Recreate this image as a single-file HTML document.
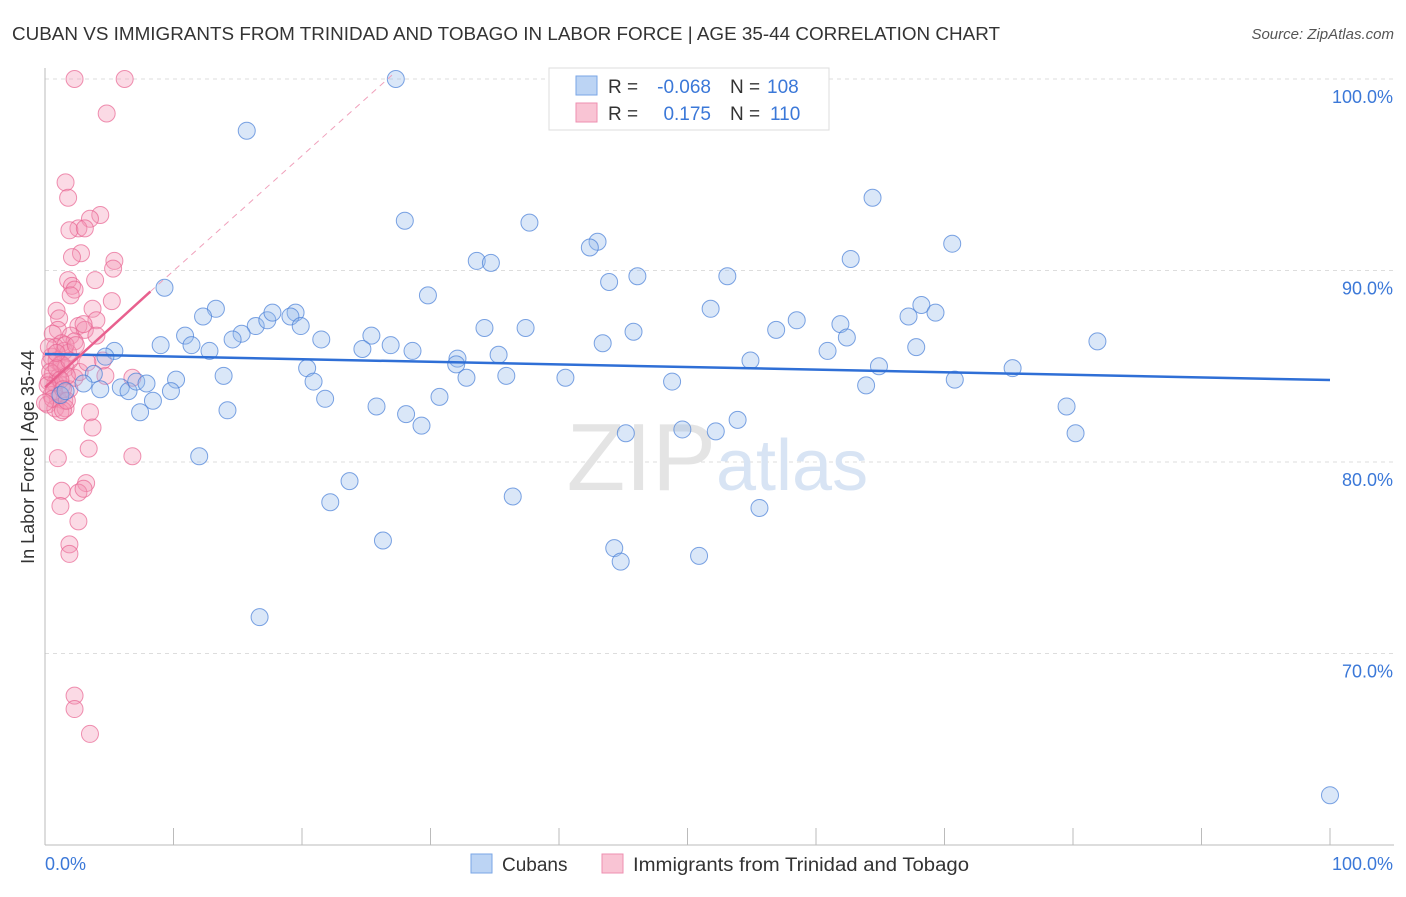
<!DOCTYPE html>
<html><head><meta charset="utf-8"><style>
body{margin:0;background:#fff;font-family:"Liberation Sans",sans-serif;}
svg text{font-family:"Liberation Sans",sans-serif;}
</style></head><body>
<svg width="1406" height="892" xmlns="http://www.w3.org/2000/svg">
<text x="12" y="40" font-size="18" fill="#333" textLength="988" lengthAdjust="spacingAndGlyphs">CUBAN VS IMMIGRANTS FROM TRINIDAD AND TOBAGO IN LABOR FORCE | AGE 35-44 CORRELATION CHART</text>
<text x="1394" y="39" font-size="15" fill="#555" font-style="italic" text-anchor="end">Source: ZipAtlas.com</text>
<g id="grid"></g>
<text x="716" y="490" font-size="96" fill="#e4e4e4" font-family="Liberation Serif" text-anchor="end">ZIP</text>
<text x="716" y="490" font-size="72" fill="#d8e4f4">atlas</text>
<g id="axes"></g>
<g id="pts"></g>
<g id="trend"></g>
<text x="34" y="457" font-size="18" fill="#333" text-anchor="middle" transform="rotate(-90 34 457)">In Labor Force | Age 35-44</text>
<text x="45" y="870" font-size="18" fill="#3b78d8">0.0%</text>
<text x="1393" y="870" font-size="18" fill="#3b78d8" text-anchor="end">100.0%</text>
<g>
<rect x="549" y="68" width="280" height="62" fill="#fff" stroke="#ddd"/>
<rect x="576" y="76" width="21" height="19" fill="#bcd4f4" stroke="#7aa6e6"/>
<rect x="576" y="103" width="21" height="19" fill="#f9c4d4" stroke="#ee8fb0"/>
<text x="608" y="93" font-size="19" fill="#333">R =</text>
<text x="711" y="93" font-size="19" fill="#3b78d8" text-anchor="end">-0.068</text>
<text x="730" y="93" font-size="19" fill="#333">N =</text>
<text x="767" y="93" font-size="19" fill="#3b78d8">108</text>
<text x="608" y="120" font-size="19" fill="#333">R =</text>
<text x="711" y="120" font-size="19" fill="#3b78d8" text-anchor="end">0.175</text>
<text x="730" y="120" font-size="19" fill="#333">N =</text>
<text x="770" y="120" font-size="19" fill="#3b78d8">110</text>
</g>
<g>
<rect x="471" y="854" width="21" height="19" fill="#bcd4f4" stroke="#7aa6e6"/>
<text x="502" y="871" font-size="19" fill="#333">Cubans</text>
<rect x="602" y="854" width="21" height="19" fill="#f9c4d4" stroke="#ee8fb0"/>
<text x="633" y="871" font-size="19" fill="#333" textLength="336" lengthAdjust="spacingAndGlyphs">Immigrants from Trinidad and Tobago</text>
</g>
</svg>
<script>
const yTicks=[100,90,80,70];
const yTickLabels=["100.0%","90.0%","80.0%","70.0%"];
const blueX=[27.3,15.7,64.4,28,37.7,43,42.4,70.6,33.6,34.7,62.7,53.1,46.1,43.9,9.3,29.8,13.3,12.3,51.8,68.2,69.3,67.2,16.4,17.3,17.7,19.5,19.1,19.9,15.3,14.6,10.9,9,11.4,12.8,21.5,25.4,26.9,28.6,24.7,34.2,37.4,45.8,43.4,56.9,58.5,61.9,62.4,60.9,67.8,81.9,5.4,4.7,32.1,35.3,32,54.9,64.9,20.4,20.9,13.9,10.2,3.8,5.9,4.3,6.5,7.1,7.9,3,1.2,1.6,9.8,8.4,7.4,14.2,21.8,25.8,28.1,29.3,30.7,32.8,35.9,40.5,48.8,63.9,70.8,75.3,53.9,45.2,49.6,52.2,79.5,80.2,12,23.7,22.2,36.4,55.6,26.3,44.3,44.8,50.9,16.7,100];
const blueY=[100,97.3,93.8,92.6,92.5,91.5,91.2,91.4,90.5,90.4,90.6,89.7,89.7,89.4,89.1,88.7,88,87.6,88,88.2,87.8,87.6,87.1,87.4,87.8,87.8,87.6,87.1,86.7,86.4,86.6,86.1,86.1,85.8,86.4,86.6,86.1,85.8,85.9,87,87,86.8,86.2,86.9,87.4,87.2,86.5,85.8,86,86.3,85.8,85.5,85.4,85.6,85.1,85.3,85,84.9,84.2,84.5,84.3,84.6,83.9,83.8,83.7,84.2,84.1,84.1,83.5,83.7,83.7,83.2,82.6,82.7,83.3,82.9,82.5,81.9,83.4,84.4,84.5,84.4,84.2,84,84.3,84.9,82.2,81.5,81.7,81.6,82.9,81.5,80.3,79,77.9,78.2,77.6,75.9,75.5,74.8,75.1,71.9,62.6];
const pinkX=[2.3,6.2,4.8,1.6,1.8,4.3,3.5,2.6,1.9,3.1,2.8,2.1,5.4,5.3,1.8,3.9,2.1,2.3,2,5.2,3.7,0.9,1.1,4,2.6,3.1,1,0.6,2,4.0,1.3,2.3,0.8,1.5,0.5,1.8,0.9,0.4,1.2,1.6,0.6,1,0.3,0.8,1.3,1.9,0.5,1,1.5,0.2,0.8,1.6,1.2,2.3,2.7,4.7,6.8,4.5,3.3,3.5,3.7,3.4,1,6.8,3.2,1.3,2.6,3,1.2,2.6,1.9,1.9,2.3,2.3,3.5,1.3,0.4,0.9,1.7,0.7,1.2,0.2,0.6,1.4,1.9,3,1.6,2.4,0.3,0.9,0,1.4,1.7];
const pinkY=[100,100,98.2,94.6,93.8,92.9,92.7,92.2,92.1,92.2,90.9,90.7,90.5,90.1,89.5,89.5,89.2,89,88.7,88.4,88,87.9,87.5,87.4,87.1,86.9,86.9,86.7,86.6,86.6,86.2,86.3,86,85.8,85.5,85.7,85.3,85.2,85.1,84.9,84.6,84.4,84.2,84.1,84,83.8,83.5,83.3,83.2,83,82.8,82.8,82.6,84.4,84.7,84.5,84.4,85.3,85.2,82.6,81.8,80.7,80.2,80.3,78.9,78.5,78.4,78.6,77.7,76.9,75.7,75.2,67.8,67.1,65.8,85.1,84.7,84.9,84.5,83.7,84.3,84,83.3,83.8,85.3,87.2,86.1,86.1,86,85.7,83.1,82.7,83.2];
const sx=v=>45+v*12.85, sy=v=>79+(100-v)*19.15;
const NS="http://www.w3.org/2000/svg";
function mk(t,a,p){const e=document.createElementNS(NS,t);for(const k in a)e.setAttribute(k,a[k]);p.appendChild(e);return e;}
const grid=document.getElementById('grid'),axes=document.getElementById('axes');
yTicks.forEach((v,i)=>{const g=mk('line',{x1:45,x2:1394,y1:sy(v),y2:sy(v),stroke:'#ddd','stroke-dasharray':'4,4'},grid);


const t=mk('text',{x:1393,y:sy(v)+24,'font-size':18,fill:'#3b78d8','text-anchor':'end'},axes);t.textContent=yTickLabels[i];

});
let l=mk('line',{x1:45,x2:45,y1:68,y2:845,stroke:'#bbb'},axes);


l=mk('line',{x1:45,x2:1394,y1:845,y2:845,stroke:'#bbb'},axes);


for(let i=0;i<=10;i++){const t=mk('line',{x1:sx(i*10),x2:sx(i*10),y1:828,y2:845,stroke:'#bbb'},axes);

}
const pts=document.getElementById('pts');
pinkX.forEach((x,i)=>{const c=mk('circle',{cx:sx(x),cy:sy(pinkY[i]),r:8.5,fill:'rgba(244,150,180,0.35)',stroke:'rgba(232,100,145,0.7)','stroke-width':1},pts);

});
blueX.forEach((x,i)=>{const c=mk('circle',{cx:sx(x),cy:sy(blueY[i]),r:8.5,fill:'rgba(150,185,235,0.35)',stroke:'rgba(70,125,215,0.7)','stroke-width':1},pts);

});
const tr=document.getElementById('trend');
l=mk('line',{x1:sx(0),y1:sy(85.64),x2:sx(100),y2:sy(84.28),stroke:'#2f6fd6','stroke-width':2.5},tr);


l=mk('line',{x1:sx(8.2),y1:sy(88.9),x2:sx(27),y2:sy(100.2),stroke:'#f0a0bb','stroke-width':1,'stroke-dasharray':'6,5'},tr);


l=mk('line',{x1:sx(0),y1:sy(83.9),x2:sx(8.2),y2:sy(88.9),stroke:'#e8608e','stroke-width':2.5},tr);


</script>
</body></html>
